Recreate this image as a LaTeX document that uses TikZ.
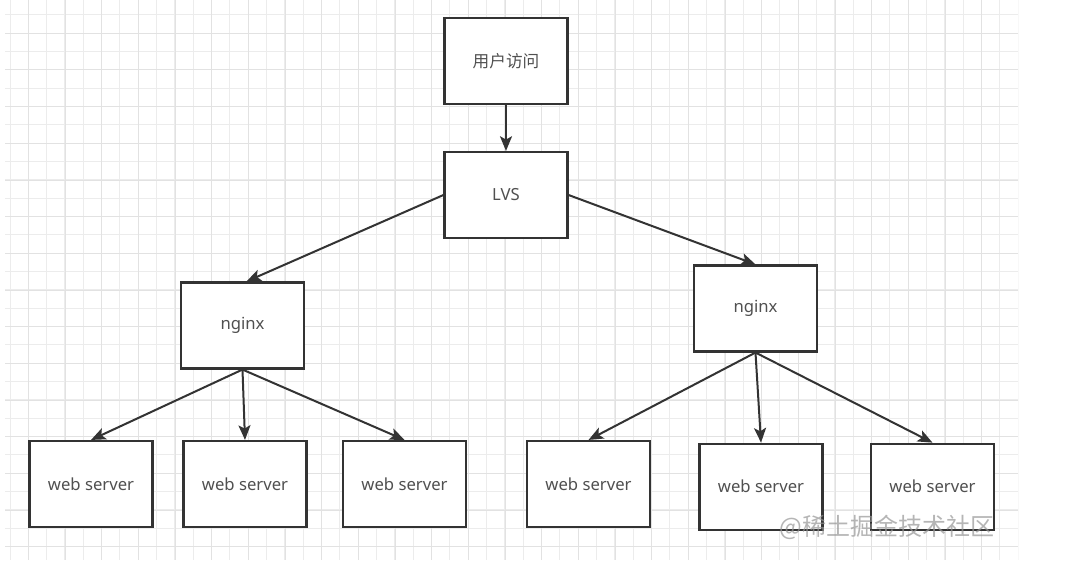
\documentclass[tikz,border=0pt]{standalone}
\usepackage{fontspec}
\setmainfont{Noto Sans}
\newfontfamily\cjk{Noto Sans CJK SC}
\usetikzlibrary{arrows.meta}
\definecolor{txt}{RGB}{80,80,80}
\definecolor{edge}{RGB}{51,51,51}
\definecolor{gminor}{RGB}{236,236,236}
\definecolor{gmajor}{RGB}{226,226,226}
\definecolor{wm}{RGB}{150,150,150}
\tikzset{
  box/.style={draw=edge, line width=1.6pt, fill=white, minimum width=92.25pt, minimum height=64.5pt, inner sep=0pt, text=txt, font=\fontsize{12.5}{14}\selectfont},
  conn/.style={draw=edge, line width=1.5pt, -{Stealth[length=11pt,width=9pt,inset=2.5pt]}},
  minorline/.style={draw=gminor, line width=0.75pt},
  majorline/.style={draw=gmajor, line width=0.75pt}
}
\begin{document}
\begin{tikzpicture}[x=0.75pt,y=-0.75pt]
\useasboundingbox (0,0) rectangle (1086,574);
\fill[white] (0,0) rectangle (1086,574);
\begin{scope}
\clip (5,0) rectangle (1018,560);
\foreach \k in {0,...,55} \draw[minorline] ({10+18.333*\k},0) -- ({10+18.333*\k},560);
\foreach \k in {0,...,31} \draw[minorline] (5,{-3.333+18.333*\k}) -- (1018,{-3.333+18.333*\k});
\foreach \k in {0,...,27} \draw[majorline] ({28.333+36.667*\k},0) -- ({28.333+36.667*\k},560);
\foreach \k in {1,...,15} \draw[majorline] (5,{-3.333+36.667*\k}) -- (1018,{-3.333+36.667*\k});
\end{scope}

\node[box] (user) at (506,61) {\cjk 用户访问};
\node[box] (lvs) at (506,195) {LVS};
\node[box] (ngL) at (242.5,325.5) {nginx};
\node[box] (ngR) at (755.5,308.5) {nginx};
\node[box] (ws1) at (91,484) {web server};
\node[box] (ws2) at (245,484) {web server};
\node[box] (ws3) at (404.5,484) {web server};
\node[box] (ws4) at (588.5,484) {web server};
\node[box] (ws5) at (761,486.7) {web server};
\node[box] (ws6) at (932.5,486.7) {web server};

\draw[conn] (user.south) -- (lvs.north);
\draw[conn] (lvs.west) -- ([xshift=3pt]ngL.north);
\draw[conn] (lvs.east) -- (ngR.north);
\draw[conn] (ngL.south) -- (ws1.north);
\draw[conn] (ngL.south) -- (ws2.north);
\draw[conn] (ngL.south) -- (ws3.north);
\draw[conn] (ngR.south) -- (ws4.north);
\draw[conn] (ngR.south) -- (ws5.north);
\draw[conn] (ngR.south) -- (ws6.north);

\node[text=wm, opacity=0.7, font=\cjk\fontsize{18}{20}\selectfont, inner sep=0pt] (wmk) at (887,527.5) {@稀土掘金技术社区};
\end{tikzpicture}
\end{document}
